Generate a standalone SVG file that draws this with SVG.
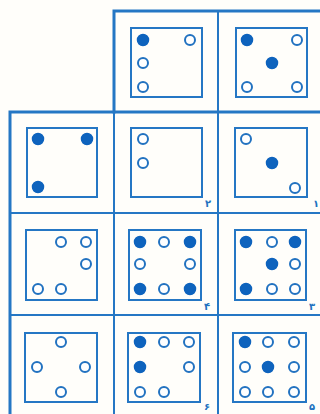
<svg xmlns="http://www.w3.org/2000/svg" width="320" height="414" viewBox="0 0 320 414">
<style>
.g{stroke:#2577c4;fill:none;stroke-linecap:square}
.sq{stroke:#2577c4;stroke-width:2;fill:none}
.o{fill:#fff;stroke:#2272c0;stroke-width:2}
.f{fill:#0e63bd;stroke:#0e63bd;stroke-width:1.5}
.lb{font-family:"DejaVu Sans",sans-serif;font-size:10px;font-weight:bold;fill:#2272c0}
</style>
<rect width="320" height="414" fill="#fffefa"/>
<g id="grid" class="g">
<path d="M114 11V112M114 11H322" stroke-width="3"/>
<path d="M10 112H322M10 112V416" stroke-width="3"/>
<path d="M114 112V416M218 11V416M10 213H322M10 315H322" stroke-width="2"/>
</g>
<g id="r1b">
<rect class="sq" x="131" y="28" width="71" height="69"/>
<circle class="f" cx="143" cy="40" r="5.5"/><circle class="o" cx="190" cy="40" r="5"/>
<circle class="o" cx="143" cy="63" r="5"/><circle class="o" cx="143" cy="87" r="5"/>
</g>
<g id="r1c">
<rect class="sq" x="236" y="28" width="71" height="69"/>
<circle class="f" cx="247" cy="40" r="5.5"/><circle class="o" cx="297" cy="40" r="5"/>
<circle class="f" cx="272" cy="63" r="5.5"/>
<circle class="o" cx="247" cy="87" r="5"/><circle class="o" cx="297" cy="87" r="5"/>
</g>
<g id="r2a">
<rect class="sq" x="27" y="128" width="70" height="69"/>
<circle class="f" cx="38" cy="139" r="5.5"/><circle class="f" cx="87" cy="139" r="5.5"/>
<circle class="f" cx="38" cy="187" r="5.5"/>
</g>
<g id="r2b">
<rect class="sq" x="131" y="128" width="71" height="69"/>
<circle class="o" cx="143" cy="139" r="5"/><circle class="o" cx="143" cy="163" r="5"/>
<text class="lb" x="205" y="207">۲</text>
</g>
<g id="r2c">
<rect class="sq" x="235" y="128" width="72" height="69"/>
<circle class="o" cx="246" cy="139" r="5"/><circle class="f" cx="272" cy="163" r="5.5"/>
<circle class="o" cx="295" cy="188" r="5"/>
<text class="lb" x="313" y="207">۱</text>
</g>
<g id="r3a">
<rect class="sq" x="26" y="230" width="71" height="70"/>
<circle class="o" cx="61" cy="242" r="5"/><circle class="o" cx="86" cy="242" r="5"/>
<circle class="o" cx="86" cy="264" r="5"/>
<circle class="o" cx="38" cy="289" r="5"/><circle class="o" cx="61" cy="289" r="5"/>
</g>
<g id="r3b">
<rect class="sq" x="129" y="230" width="72" height="70"/>
<circle class="f" cx="140" cy="242" r="5.5"/><circle class="o" cx="164" cy="242" r="5"/><circle class="f" cx="190" cy="242" r="5.5"/>
<circle class="o" cx="140" cy="264" r="5"/><circle class="o" cx="190" cy="264" r="5"/>
<circle class="f" cx="140" cy="289" r="5.5"/><circle class="o" cx="164" cy="289" r="5"/><circle class="f" cx="190" cy="289" r="5.5"/>
<text class="lb" x="204" y="310">۴</text>
</g>
<g id="r3c">
<rect class="sq" x="235" y="230" width="71" height="70"/>
<circle class="f" cx="246" cy="242" r="5.5"/><circle class="o" cx="272" cy="242" r="5"/><circle class="f" cx="295" cy="242" r="5.5"/>
<circle class="f" cx="272" cy="264" r="5.5"/><circle class="o" cx="295" cy="264" r="5"/>
<circle class="f" cx="246" cy="289" r="5.5"/><circle class="o" cx="272" cy="289" r="5"/><circle class="o" cx="295" cy="289" r="5"/>
<text class="lb" x="309" y="310">۳</text>
</g>
<g id="r4a">
<rect class="sq" x="25" y="333" width="72" height="69"/>
<circle class="o" cx="61" cy="342" r="5"/>
<circle class="o" cx="37" cy="367" r="5"/><circle class="o" cx="85" cy="367" r="5"/>
<circle class="o" cx="61" cy="392" r="5"/>
</g>
<g id="r4b">
<rect class="sq" x="128" y="333" width="72" height="69"/>
<circle class="f" cx="140" cy="342" r="5.5"/><circle class="o" cx="164" cy="342" r="5"/><circle class="o" cx="189" cy="342" r="5"/>
<circle class="f" cx="140" cy="367" r="5.5"/><circle class="o" cx="189" cy="367" r="5"/>
<circle class="o" cx="140" cy="392" r="5"/><circle class="o" cx="164" cy="392" r="5"/>
<text class="lb" x="204" y="410">۶</text>
</g>
<g id="r4c">
<rect class="sq" x="233" y="333" width="73" height="69"/>
<circle class="f" cx="245" cy="342" r="5.5"/><circle class="o" cx="268" cy="342" r="5"/><circle class="o" cx="294" cy="342" r="5"/>
<circle class="o" cx="245" cy="367" r="5"/><circle class="f" cx="268" cy="367" r="5.5"/><circle class="o" cx="294" cy="367" r="5"/>
<circle class="o" cx="245" cy="392" r="5"/><circle class="o" cx="268" cy="392" r="5"/><circle class="o" cx="294" cy="392" r="5"/>
<text class="lb" x="309" y="410">۵</text>
</g>
</svg>
